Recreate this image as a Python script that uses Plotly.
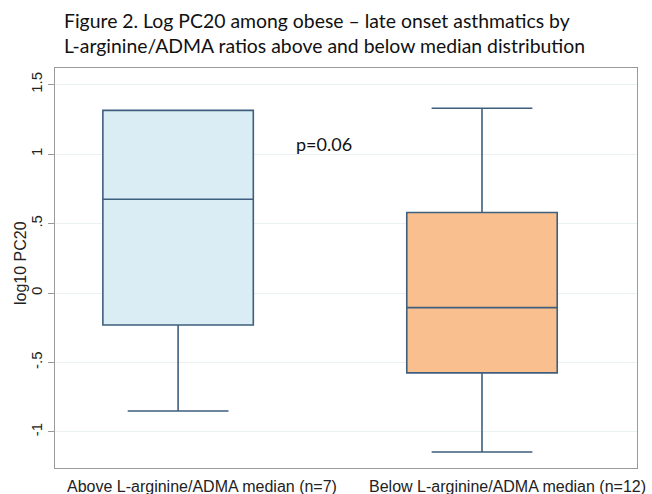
import plotly.graph_objects as go

categories = ["Above L-arginine/ADMA median (n=7)", "Below L-arginine/ADMA median (n=12)"]
lower_whisker = [-0.85, -1.145]
q1_vals = [-0.23, -0.575]
medians = [0.675, -0.105]
q3_vals = [1.315, 0.58]
upper_whisker = [1.315, 1.33]
fills = ["#daedf4", "#f9bf8e"]
y_tickvals = [-1, -0.5, 0, 0.5, 1, 1.5]
y_ticktext = ["-1", "-.5", "0", ".5", "1", "1.5"]
title_text = ("Figure 2. Log PC20 among obese – late onset asthmatics by<br>"
              "L-arginine/ADMA ratios above and below median distribution")
p_text = "p=0.06"

line_color = "#3f5f7e"
W, H = 652, 494
ML, MR, MT, MB = 55, 15, 68, 26
PW, PH = W - ML - MR, H - MT - MB

fig = go.Figure()
for i, cat in enumerate(categories):
    fig.add_trace(go.Box(
        x=[i], q1=[q1_vals[i]], median=[medians[i]], q3=[q3_vals[i]],
        lowerfence=[lower_whisker[i]], upperfence=[upper_whisker[i]],
        fillcolor=fills[i], line=dict(color=line_color, width=1.6),
        width=0.495, whiskerwidth=0.67, boxpoints=False, name=cat,
        showlegend=False, hoverinfo="skip",
    ))

fig.add_annotation(x=0.48, y=1.075, xref="x", yref="y", text=p_text,
                   showarrow=False, font=dict(family="Lato", size=18, color="#111"))

# title
fig.add_annotation(x=(62 - ML) / PW, y=1 + (MT - 33) / PH, xref="paper", yref="paper",
                   xanchor="left", yanchor="middle", align="left", showarrow=False,
                   text=title_text, font=dict(family="Lato", size=19.4, color="#111"))

# category labels
label_x = [(202 - ML) / PW, (507 - ML) / PW]
for lx, cat in zip(label_x, categories):
    fig.add_annotation(x=lx, y=-(486 - (H - MB)) / PH, xref="paper", yref="paper",
                       xanchor="center", yanchor="middle", showarrow=False, text=cat,
                       font=dict(family="Liberation Sans", size=16, color="#222"))

# y-axis title
fig.add_annotation(x=-(ML - 20) / PW, y=(H - MB - 263) / PH, xref="paper", yref="paper",
                   xanchor="center", yanchor="middle", showarrow=False, textangle=-90,
                   text="log10 PC20", font=dict(family="Liberation Sans", size=16, color="#222"))

fig.update_layout(
    width=W, height=H,
    margin=dict(l=ML, r=MR, t=MT, b=MB),
    paper_bgcolor="white", plot_bgcolor="white",
    xaxis=dict(
        range=[-0.405, 1.51], showticklabels=False, automargin=False,
        showgrid=False, zeroline=False, showline=True, mirror=True,
        linecolor="#9a9a9a", linewidth=1, ticks="",
    ),
    yaxis=dict(
        range=[-1.26, 1.62], tickvals=y_tickvals, ticktext=y_ticktext,
        tickangle=-90, showgrid=True, gridcolor="#eaf1f2", gridwidth=1,
        zeroline=False, showline=True, mirror=True, linecolor="#9a9a9a",
        linewidth=1, ticks="outside", ticklen=6, tickcolor="#9a9a9a", automargin=False,
        tickfont=dict(family="Liberation Sans", size=15, color="#222"),
    ),
)

fig.write_html("out.html", config={"displayModeBar": False},
               post_script="document.body.style.margin='0';document.body.style.overflow='hidden';")
